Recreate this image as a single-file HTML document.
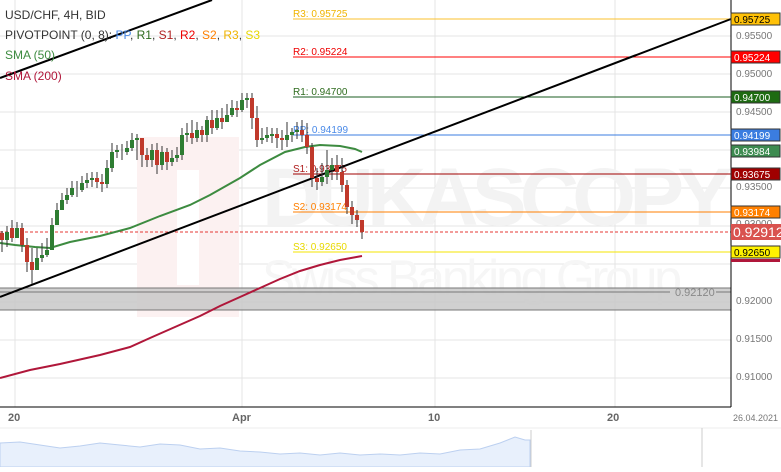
<!DOCTYPE html>
<html><head><meta charset="utf-8"><style>
body{margin:0;width:781px;height:467px;overflow:hidden;background:#fff;font-family:"Liberation Sans",Arial,sans-serif}
</style></head><body>
<svg width="781" height="467" xmlns="http://www.w3.org/2000/svg" font-family="Liberation Sans, Arial, sans-serif">
<rect width="781" height="467" fill="#fff"/>
<g stroke="#e4e4e4" stroke-width="1">
<line x1="0" x2="731" y1="36" y2="36"/><line x1="0" x2="731" y1="74" y2="74"/><line x1="0" x2="731" y1="112" y2="112"/><line x1="0" x2="731" y1="150" y2="150"/><line x1="0" x2="731" y1="188" y2="188"/><line x1="0" x2="731" y1="226" y2="226"/><line x1="0" x2="731" y1="264" y2="264"/><line x1="0" x2="731" y1="302" y2="302"/><line x1="0" x2="731" y1="340" y2="340"/><line x1="0" x2="731" y1="378" y2="378"/>
<line x1="15" x2="15" y1="0" y2="407"/><line x1="242" x2="242" y1="0" y2="407"/><line x1="435" x2="435" y1="0" y2="407"/><line x1="615" x2="615" y1="0" y2="407"/>
</g>
<rect x="137" y="137" width="102" height="180" fill="#fcf1f1"/>
<rect x="177" y="170" width="22" height="115" fill="#fff"/>
<text x="262" y="225" font-size="82" font-weight="bold" fill="#f3f3f3" textLength="470">DUKASCOPY</text>
<text x="262" y="295" font-size="50" fill="#f6f6f6" textLength="420">Swiss Banking Group</text>
<rect x="0" y="288" width="731" height="22" fill="#c8c8c8" opacity="0.85"/>
<line x1="0" x2="731" y1="288" y2="288" stroke="#777"/>
<line x1="0" x2="731" y1="310" y2="310" stroke="#777"/>
<line x1="0" x2="670" y1="292" y2="292" stroke="#777"/>
<line x1="716" x2="731" y1="292" y2="292" stroke="#777"/>
<text x="675" y="296" font-size="11" fill="#888">0.92120</text>
<g font-size="10">
<line x1="293" x2="731" y1="19" y2="19" stroke="#fbc02d"/><text x="293" y="17" fill="#f0b400">R3: 0.95725</text>
<line x1="293" x2="731" y1="57" y2="57" stroke="#f00"/><text x="293" y="55" fill="#e00">R2: 0.95224</text>
<line x1="293" x2="731" y1="97" y2="97" stroke="#1b5e20"/><text x="293" y="95" fill="#2e6b1e">R1: 0.94700</text>
<line x1="293" x2="731" y1="135" y2="135" stroke="#3b7de0"/><text x="293" y="133" fill="#4a8ae8">PP: 0.94199</text>
<line x1="293" x2="731" y1="174" y2="174" stroke="#a00000"/><text x="293" y="172" fill="#b02020">S1: 0.93675</text>
<line x1="293" x2="731" y1="212" y2="212" stroke="#ff7f00"/><text x="293" y="210" fill="#ff8000">S2: 0.93174</text>
<line x1="293" x2="731" y1="252" y2="252" stroke="#f5e600"/><text x="293" y="250" fill="#e8d800">S3: 0.92650</text>
</g>
<line x1="0" x2="731" y1="232" y2="232" stroke="#e53935" stroke-dasharray="3,2"/>
<line x1="0" y1="78" x2="212" y2="0" stroke="#000" stroke-width="2"/>
<line x1="0" y1="297" x2="731" y2="19" stroke="#000" stroke-width="2"/>
<polyline fill="none" stroke="#3d8b40" stroke-width="2" points="0,243 15,245 35,247 50,248 70,242 100,236 130,228 160,216 190,205 210,195 240,178 260,165 285,152 305,147 320,145 340,146 355,149 362,152"/>
<polyline fill="none" stroke="#b0173a" stroke-width="2" points="0,378 30,370 60,364 100,355 130,347 150,338 175,327 200,316 220,306 240,297 260,288 280,279 300,271 320,265 340,260 362,256"/>
<g stroke="#333" stroke-width="1">
<path d="M2 231V252M7 226V247M12 220V242M17 222V238M22 223V252M27 238V272M32 248V284M37 248V268M42 243V262M47 238V257M52 218V237M57 203V222M62 193V210M67 188V204M72 181V197M77 181V197M82 176V192M87 173V188M92 172V187M97 172V188M102 174V192M107 160V188M112 143V172M117 145V158M122 144V160M127 141V155M132 133V151M137 134V160M142 144V167M147 148V167M152 144V167M157 143V174M162 146V170M167 148V170M172 150V166M177 147V162M182 128V160M187 123V142M192 120V144M197 122V142M202 126V142M207 116V142M212 110V134M217 110V130M222 108V129M227 104V122M232 100V117M237 101V117M242 93V112M247 93V108M252 93V129M257 106V147M262 128V144M267 127V142M272 128V143M277 128V148M282 130V150M287 122V147M292 128V142M297 122V139M302 120V142M307 123V154M312 143V187M317 168V190M322 163V186M327 150V184M332 158V180M337 155V180M342 158V192M347 180V214M352 201V224M357 210V227M362 226V239"/>
</g>
<g fill="#c0392b">
<rect x="0" y="233" width="4" height="7"/><rect x="10" y="228" width="4" height="10"/><rect x="20" y="228" width="4" height="17"/><rect x="25" y="245" width="4" height="17"/><rect x="30" y="262" width="4" height="8"/><rect x="95" y="178" width="4" height="4"/><rect x="100" y="182" width="4" height="2"/><rect x="140" y="138" width="4" height="17"/><rect x="145" y="155" width="4" height="5"/><rect x="155" y="150" width="4" height="15"/><rect x="165" y="152" width="4" height="10"/><rect x="190" y="133" width="4" height="5"/><rect x="200" y="130" width="4" height="5"/><rect x="210" y="120" width="4" height="8"/><rect x="220" y="118" width="4" height="4"/><rect x="235" y="108" width="4" height="2"/><rect x="250" y="98" width="4" height="20"/><rect x="255" y="118" width="4" height="22"/><rect x="275" y="134" width="4" height="4"/><rect x="280" y="138" width="4" height="2"/><rect x="300" y="130" width="4" height="5"/><rect x="305" y="135" width="4" height="12"/><rect x="310" y="147" width="4" height="31"/><rect x="315" y="178" width="4" height="4"/><rect x="335" y="165" width="4" height="7"/><rect x="340" y="172" width="4" height="13"/><rect x="345" y="185" width="4" height="22"/><rect x="350" y="207" width="4" height="8"/><rect x="355" y="215" width="4" height="5"/><rect x="360" y="220" width="4" height="12"/>
</g>
<g fill="#2e7d32">
<rect x="5" y="232" width="4" height="8"/><rect x="15" y="228" width="4" height="10"/><rect x="35" y="258" width="4" height="12"/><rect x="40" y="255" width="4" height="3"/><rect x="45" y="250" width="4" height="5"/><rect x="50" y="225" width="4" height="25"/><rect x="55" y="210" width="4" height="15"/><rect x="60" y="200" width="4" height="10"/><rect x="65" y="195" width="4" height="5"/><rect x="70" y="188" width="4" height="7"/><rect x="80" y="183" width="4" height="7"/><rect x="85" y="180" width="4" height="3"/><rect x="90" y="178" width="4" height="2"/><rect x="105" y="168" width="4" height="16"/><rect x="110" y="152" width="4" height="16"/><rect x="115" y="150" width="4" height="2"/><rect x="125" y="148" width="4" height="4"/><rect x="130" y="140" width="4" height="8"/><rect x="135" y="138" width="4" height="2"/><rect x="150" y="150" width="4" height="10"/><rect x="160" y="152" width="4" height="13"/><rect x="170" y="158" width="4" height="4"/><rect x="175" y="155" width="4" height="3"/><rect x="180" y="135" width="4" height="20"/><rect x="185" y="133" width="4" height="2"/><rect x="195" y="130" width="4" height="8"/><rect x="205" y="120" width="4" height="15"/><rect x="215" y="118" width="4" height="10"/><rect x="225" y="115" width="4" height="7"/><rect x="230" y="108" width="4" height="7"/><rect x="240" y="100" width="4" height="10"/><rect x="245" y="98" width="4" height="2"/><rect x="260" y="138" width="4" height="2"/><rect x="265" y="135" width="4" height="3"/><rect x="270" y="134" width="4" height="2"/><rect x="285" y="135" width="4" height="5"/><rect x="290" y="132" width="4" height="3"/><rect x="295" y="130" width="4" height="2"/><rect x="320" y="177" width="4" height="5"/><rect x="325" y="170" width="4" height="7"/><rect x="330" y="165" width="4" height="5"/>
</g>
<line x1="731" x2="731" y1="0" y2="407" stroke="#000"/>
<line x1="0" x2="731" y1="407" y2="407" stroke="#000"/>
<g font-size="10" fill="#777">
<text x="736" y="39">0.95500</text><text x="736" y="77">0.95000</text><text x="736" y="115">0.94500</text><text x="736" y="190">0.93500</text><text x="736" y="227">0.93000</text><text x="736" y="304">0.92000</text><text x="736" y="342">0.91500</text><text x="736" y="380">0.91000</text>
</g>
<g font-size="10" fill="#000">
<rect x="731" y="13" width="49" height="12" fill="#ffc107" stroke="#333"/><text x="734" y="23">0.95725</text>
<rect x="731" y="51" width="49" height="12" fill="#f00" stroke="#333"/><text x="734" y="61" fill="#fff">0.95224</text>
<rect x="731" y="91" width="49" height="12" fill="#1e6b12" stroke="#333"/><text x="734" y="101" fill="#fff">0.94700</text>
<rect x="731" y="129" width="49" height="12" fill="#3b7de0" stroke="#333"/><text x="734" y="139" fill="#fff">0.94199</text>
<rect x="731" y="145" width="49" height="12" fill="#3d8b50" stroke="#333"/><text x="734" y="155" fill="#fff">0.93984</text>
<rect x="731" y="168" width="49" height="12" fill="#a00000" stroke="#333"/><text x="734" y="178" fill="#fff">0.93675</text>
<rect x="731" y="206" width="49" height="12" fill="#ff8000" stroke="#333"/><text x="734" y="216" fill="#fff">0.93174</text>
<rect x="731" y="224" width="50" height="16" fill="#d9534f"/><text x="733" y="237" font-size="14" fill="#fff">0.92912</text>
<rect x="731" y="246" width="49" height="12" fill="#fff200" stroke="#333"/><text x="734" y="256">0.92650</text>
<rect x="731" y="259" width="49" height="3" fill="#b0173a"/>
</g>
<g font-size="11" font-weight="bold" fill="#666">
<text x="8" y="421">20</text><text x="232" y="421">Apr</text><text x="428" y="421">10</text><text x="607" y="421">20</text>
</g>
<text x="733" y="421" font-size="9" fill="#777">26.04.2021</text>
<line x1="0" x2="781" y1="428" y2="428" stroke="#eee"/>
<polygon fill="#e8f0fc" stroke="#bcd0f0" points="0,443 20,442 40,445 60,448 80,446 100,443 120,445 140,447 160,444 180,445 200,449 220,448 240,451 260,452 280,454 300,453 320,455 340,453 360,455 380,454 400,455 420,453 440,454 460,450 480,449 500,443 515,437 525,440 530,440 530,467 0,467"/>
<line x1="531" x2="531" y1="430" y2="467" stroke="#ccc"/>
<line x1="702" x2="702" y1="428" y2="467" stroke="#ccc"/>
<g font-size="12">
<text x="5" y="19" fill="#333">USD/CHF, 4H, BID</text>
<text x="5" y="39" fill="#333">PIVOTPOINT (0, 8): <tspan fill="#4a8ae8">PP</tspan>, <tspan fill="#2e6b1e">R1</tspan>, <tspan fill="#b02020">S1</tspan>, <tspan fill="#e00">R2</tspan>, <tspan fill="#ff8000">S2</tspan>, <tspan fill="#f0b400">R3</tspan>, <tspan fill="#e8d800">S3</tspan></text>
<text x="5" y="59" fill="#3d8b40">SMA (50)</text>
<text x="5" y="80" fill="#b0173a">SMA (200)</text>
</g>
</svg>
</body></html>
